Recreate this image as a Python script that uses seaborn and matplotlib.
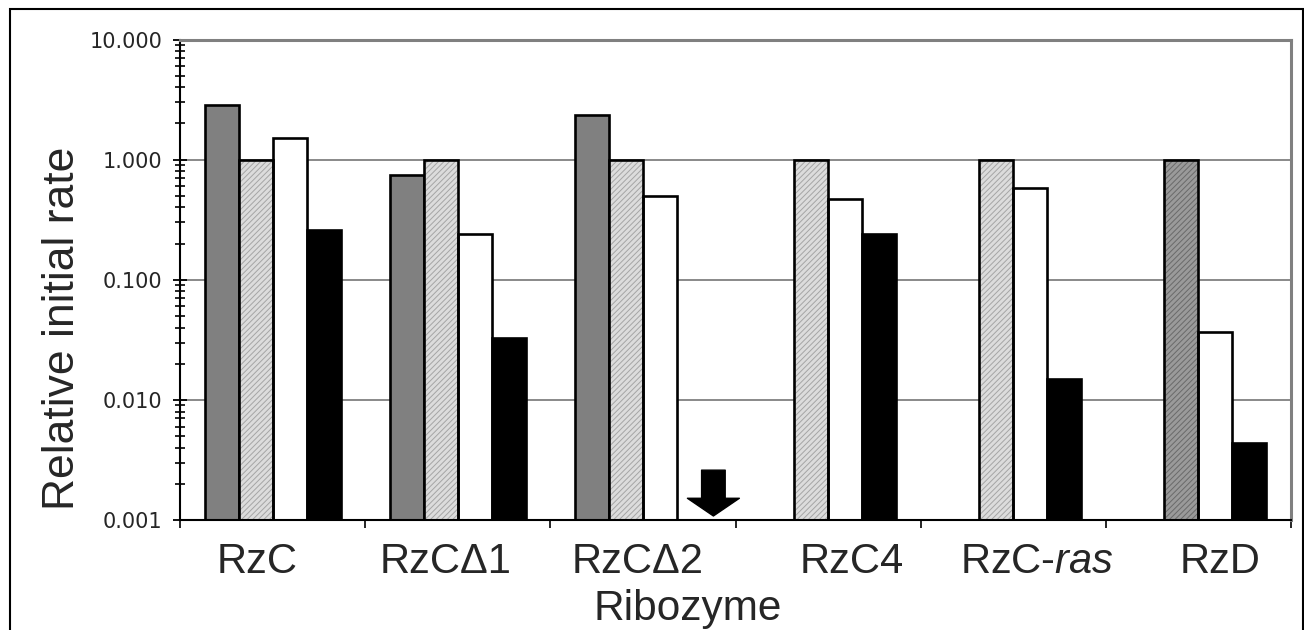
import numpy as np
import pandas as pd
import seaborn as sns
import matplotlib.pyplot as plt
from matplotlib.patches import Rectangle
from matplotlib.ticker import LogLocator, FixedLocator, NullFormatter, FuncFormatter
from matplotlib import transforms


ribozymes = ['RzC', 'RzC\u03941', 'RzC\u03942', 'RzC4', 'RzC-ras', 'RzD']
tick_text = ['RzC', 'RzC\u03941', 'RzC\u03942', 'RzC4', 'RzC-$\\mathit{ras}$', 'RzD']
conditions = ['cond 1', 'cond 2', 'cond 3', 'cond 4']

cond1 = [2.85, 0.75, 2.35, np.nan, np.nan, np.nan]
cond2 = [1.0, 1.0, 1.0, 1.0, 1.0, 1.0]
cond3 = [1.5, 0.24, 0.50, 0.47, 0.58, 0.037]
cond4 = [0.26, 0.033, np.nan, 0.24, 0.015, 0.0044]

# RzCdelta2 in cond 4 is below detection -> drawn as arrow
below_limit = 'RzC\u03942'

# label nudges (in category units), the labels were placed by hand in the original
label_shift = [-0.084, -0.068, -0.03, 0.13, 0.13, 0.116]

rows = []
for cond, vals in zip(conditions, [cond1, cond2, cond3, cond4]):
    for rz, v in zip(ribozymes, vals):
        rows.append({'ribozyme': rz, 'condition': cond, 'rate': v})
df = pd.DataFrame(rows).dropna()

sns.set_style('ticks')
plt.rcParams['font.family'] = ['Liberation Sans', 'DejaVu Sans']
plt.rcParams['mathtext.fontset'] = 'custom'
plt.rcParams['mathtext.rm'] = 'Liberation Sans'
plt.rcParams['mathtext.it'] = 'Liberation Sans:italic'
plt.rcParams['hatch.linewidth'] = 0.7

fig = plt.figure(figsize=(13.04, 6.30), dpi=100)
ax = fig.add_axes([180 / 1304, 1 - 520 / 630, (1291 - 180) / 1304, (520 - 39.5) / 630])
ax.set_yscale('log')

palette = {'cond 1': '#808080', 'cond 2': '#d9d9d9', 'cond 3': '#ffffff', 'cond 4': '#000000'}
sns.barplot(data=df, x='ribozyme', y='rate', hue='condition', order=ribozymes,
            hue_order=conditions, palette=palette, width=0.735, dodge=True,
            saturation=1, edgecolor='black', linewidth=1.9, legend=False,
            err_kws={'linewidth': 0}, ax=ax)

# hatched bars: hatch in gray, outline drawn on top in black
hatched = ax.containers[1]
for p in hatched.patches:
    if np.isnan(p.get_height()) or p.get_height() == 0:
        continue
    idx = int(np.floor(p.get_x() + 0.5))
    if ribozymes[idx] == 'RzD':
        p.set_facecolor('#9a9a9a')
        p.set_edgecolor('#6a6a6a')
    else:
        p.set_facecolor('#dcdcdc')
        p.set_edgecolor('#a5a5a5')
    p.set_hatch('//////')
    p.set_linewidth(0)
    ax.add_patch(Rectangle(p.get_xy(), p.get_width(), p.get_height(), fill=False,
                           edgecolor='black', linewidth=1.9, zorder=p.get_zorder() + 0.1))

ax.set_ylim(0.001, 10)
ax.set_xlim(-0.5, len(ribozymes) - 0.5)

# arrow for the value below detection limit
k = ribozymes.index(below_limit)
bw = 0.735 / 4
arrow_x = k + 0.735 / 2 - bw / 2 + 0.105
ax.annotate('', xy=(arrow_x, 0.00108), xytext=(arrow_x, 0.0026),
            arrowprops=dict(arrowstyle='simple,head_length=0.75,head_width=2.2,tail_width=1.0',
                            fc='black', ec='black', mutation_scale=17,
                            shrinkA=0, shrinkB=0))

# y axis
ax.yaxis.set_major_locator(LogLocator(base=10, numticks=10))
ax.yaxis.set_minor_locator(LogLocator(base=10, subs=np.arange(2, 10), numticks=10))
ax.yaxis.set_minor_formatter(NullFormatter())
ax.yaxis.set_major_formatter(FuncFormatter(lambda v, pos: '%.3f' % v))
ax.tick_params(axis='y', which='major', direction='inout', length=9.5, width=1.3,
               labelsize=15, pad=8, color='black')
ax.tick_params(axis='y', which='minor', direction='inout', length=7, width=1.2, color='black')
for t in ax.get_yticklabels():
    t.set_fontfamily('DejaVu Sans')
ax.grid(axis='y', which='major', color='#808080', linewidth=1.3)
ax.set_axisbelow(True)

# x axis: ticks at category boundaries, labels placed by hand
ax.xaxis.set_major_locator(FixedLocator(np.arange(-0.5, len(ribozymes), 1.0)))
ax.set_xticklabels([])
ax.tick_params(axis='x', which='major', direction='out', length=6, width=1.2, color='black')
ax.set_xlabel('')
ax.set_ylabel('')

trans = transforms.blended_transform_factory(ax.transData, ax.transAxes)
for i, txt in enumerate(tick_text):
    ax.text(i + label_shift[i], -0.110, txt, transform=trans, ha='center',
            va='baseline', fontsize=30)

fig.text(688 / 1304, 1 - 620 / 630, 'Ribozyme', ha='center', va='baseline', fontsize=30.5)
fig.text(63 / 1304, 1 - 328 / 630, 'Relative initial rate', ha='center', va='center',
         rotation=90, fontsize=32)

for side in ['left', 'bottom']:
    ax.spines[side].set_color('black')
    ax.spines[side].set_linewidth(1.5)
for side in ['top', 'right']:
    ax.spines[side].set_visible(True)
    ax.spines[side].set_color('#808080')
    ax.spines[side].set_linewidth(2.2)

# outer frame of the figure
fig.patches.append(Rectangle((9.5 / 1304, -0.1), (1303 - 9.5) / 1304, 1.1 - 9.5 / 630,
                             transform=fig.transFigure, fill=False, edgecolor='black',
                             linewidth=1.5, clip_on=False))

fig.savefig('out.png', dpi=100)
